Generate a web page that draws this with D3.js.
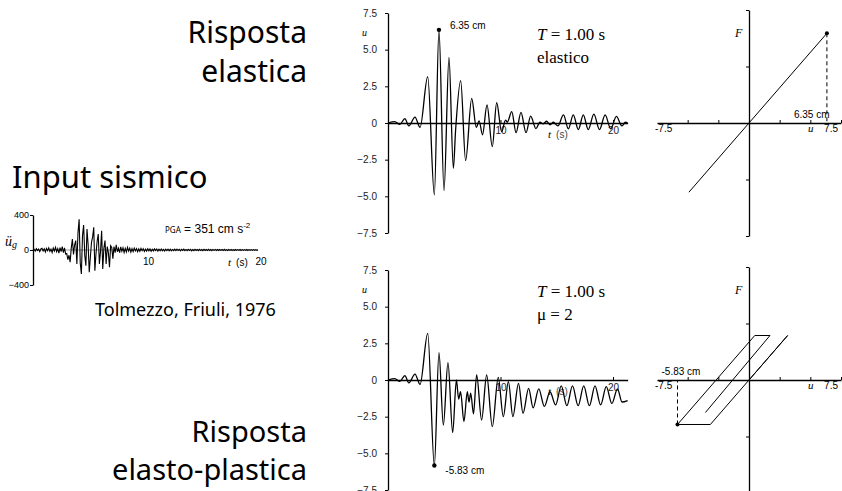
<!DOCTYPE html>
<html>
<head>
<meta charset="utf-8">
<script src="https://cdn.jsdelivr.net/npm/d3@7"></script>
<style>
  body { margin: 0; background: #fff; }
  svg { display: block; }
</style>
</head>
<body>
<div id="chart"></div>
<script>
// ground acceleration, Tolmezzo 1976, one value every 0.1 s from t = 0 (cm/s^2)
const accelStep = 0.1;
const accelValues = [
  0, 8, -12, 15, -6, 10, -18, 12, 20, -10, 14, -22, 18, -8, 25, -15, 10, -28, 22, -12,
  30, -20, 15, -35, 28, -18, 40, -30, 25, -45,
  -40, -110, -60, -140, 20, 126, -50, 60, 107, -160,
  200, 351, -150, -274, 164, 286, -60, -179, 240, 60,
  -255, -80, 88, 150, 259, -236, -40, 100, 183, -160,
  -20, 221, -217, 20, 107, -160, 40, -30, -198, 50,
  30, -100, 40, -30, 60, -20,
  20, -30, 35, -15, 25, -28, 18, -22, 30, -12,
  20, -25, 15, -18, 22, -10, 16, -20, 12, -15,
  18, -8, 14, -16, 10, -12, 15, -9, 12, -14,
  8, -10, 13, -7, 11, -12, 9, -8, 12, -10,
  7, -11, 9, -6, 10, -9, 8, -10, 6, -8,
  9, -7, 10, -6, 8, -9, 7, -5, 9, -8,
  6, -7, 8, -6, 7, -9, 5, -7, 8, -5,
  6, -8, 7, -6, 5, -7, 8, -5, 6, -6,
  7, -5, 5, -7, 6, -4, 7, -6, 5, -5,
  6, -4, 5, -6, 7, -5, 4, -5, 6, -4,
  5, -6, 4, -5, 6, -4, 5, -4, 6, -5,
  4, -5, 5, -4, 6, -5, 4, -5, 5, -4,
  4, -5, 5, -4, 3
];

// elastic response: turning points (t in s, u in cm)
const elasticT = [0, 0.6, 1.05, 1.5, 1.85, 2.4, 2.85, 3.53, 4.12, 4.53, 4.98, 5.42, 5.81, 6.0, 6.46, 6.9,
  7.44, 7.85, 8.1, 8.4, 8.8, 9.27, 9.66, 10.1, 10.45, 10.6, 11.0, 11.38, 11.82, 12.27, 12.68, 13.15,
  13.5, 13.8, 14.1, 14.4, 14.7, 15.1, 15.6, 16.03, 16.47, 16.92, 17.36, 17.8, 18.3, 18.8, 19.3, 19.8,
  20.3, 20.8, 21.1, 21.3];
const elasticU = [0, 0.1, -0.1, 0.3, -0.2, 0.4, -0.3, 3.16, -4.9, 6.35, -4.6, 4.48, -3.09, -0.6, 2.89, -2.57,
  1.68, -0.3, 0.15, -0.8, 1.23, -1.61, 1.38, -0.6, 0.2, 0.05, 0.77, -0.66, 0.72, -0.66, 0.47, -0.38,
  0.05, -0.05, 0.12, -0.12, 0.05, -0.2, 0.55, -0.4, 0.55, -0.45, 0.55, -0.45, 0.6, -0.45, 0.55, -0.4,
  0.45, -0.2, 0.05, 0];

// elasto-plastic response (mu = 2)
const plasticT = [0, 0.6, 1.05, 1.5, 1.85, 2.4, 2.85, 3.53, 4.12, 4.53, 4.92, 5.33, 5.75, 6.08, 6.28, 6.45,
  6.75, 7.05, 7.2, 7.35, 7.6, 7.88, 8.32, 8.77, 9.27, 9.8, 10.25, 10.7, 11.1, 11.6, 12.0, 12.5,
  12.9, 13.4, 13.9, 14.4, 14.9, 15.4, 15.9, 16.4, 16.9, 17.4, 17.9, 18.4, 18.9, 19.4, 19.9, 20.4,
  20.8, 21.3];
const plasticU = [0, 0.1, -0.1, 0.3, -0.2, 0.4, -0.3, 3.18, -5.83, 1.86, -3.07, 1.18, -3.59, 0.0, -1.3, -0.8,
  -2.84, -0.8, -1.5, -0.9, -2.3, 0.34, -2.73, 0.34, -3.18, 0.18, -2.5, -0.11, -2.5, -0.23, -2.27, -0.57,
  -1.9, -0.6, -1.8, -0.8, -1.7, -0.4, -1.75, -0.4, -1.75, -0.4, -1.75, -0.4, -1.7, -0.45, -1.6, -0.6,
  -1.5, -1.4];

// force-displacement paths (u in cm, F in displacement units, k = 1)
const elasticLoopU = [-4.9, 6.35];
const elasticLoopF = [-4.9, 6.35];
const plasticLoopU = [0, 3.15, -3.15, -5.83, 0.47, 1.71, -3.55];
const plasticLoopF = [0, 3.15, -3.15, -3.15, 3.15, 3.15, -2.3];

const W = 842, H = 491;
const sans = "'Liberation Sans', Arial, sans-serif";
const serif = "'Liberation Serif', 'Times New Roman', serif";
const comic = "'Noto Sans', sans-serif";

const svg = d3.select("#chart").append("svg")
  .attr("width", W)
  .attr("height", H)
  .style("font-family", sans);

// headings
function heading(x, y, txt, size, anchor) {
  svg.append("text")
    .attr("x", x).attr("y", y)
    .attr("text-anchor", anchor)
    .style("font-family", comic)
    .style("font-size", size + "px")
    .text(txt);
}
heading(307, 43, "Risposta", 30, "end");
heading(307, 82, "elastica", 30, "end");
heading(12, 188, "Input sismico", 31, "start");
heading(95, 316, "Tolmezzo, Friuli, 1976", 18, "start");
heading(307, 442, "Risposta", 29, "end");
heading(307, 480, "elasto-plastica", 29, "end");

// ---------- accelerogram ----------
const ax = d3.scaleLinear().domain([0, 20]).range([33, 258]);
const ay = d3.scaleLinear().domain([-400, 400]).range([285, 215]);

svg.append("line")
  .attr("x1", ax(0)).attr("x2", ax(20))
  .attr("y1", ay(0)).attr("y2", ay(0))
  .attr("stroke", "#999").attr("stroke-width", 1);

svg.append("path")
  .datum(accelValues)
  .attr("fill", "none")
  .attr("stroke", "#000")
  .attr("stroke-width", 1.1)
  .attr("d", d3.line().x((d, i) => ax(i * accelStep)).y(d => ay(d)));

const accelAxis = svg.append("g")
  .attr("transform", `translate(${ax(0)},0)`)
  .call(d3.axisLeft(ay).tickValues([-400, 0, 400]).tickSize(3).tickPadding(1).tickSizeOuter(0));
accelAxis.select(".domain").attr("stroke-width", 1.3);
accelAxis.selectAll("text").style("font-family", sans).style("font-size", "9px");

svg.selectAll(".acc-xlab")
  .data([10, 20])
  .enter().append("text")
  .attr("x", d => ax(d) + 3)
  .attr("y", ay(0) + 15)
  .attr("text-anchor", "middle")
  .style("font-size", "10px")
  .text(d => d);

svg.append("text")
  .attr("x", 228).attr("y", ay(0) + 16)
  .style("font-size", "10px")
  .call(t => {
    t.append("tspan").style("font-family", serif).style("font-style", "italic").style("font-size", "11px").text("t");
    t.append("tspan").attr("dx", 5).text("(s)");
  });

svg.append("text")
  .attr("x", 5).attr("y", 246)
  .style("font-family", serif).style("font-style", "italic").style("font-size", "14px")
  .call(t => {
    t.append("tspan").text("\u00fc");
    t.append("tspan").attr("dy", 2).style("font-size", "10px").text("g");
  });

svg.append("text")
  .attr("x", 165).attr("y", 233)
  .call(t => {
    t.append("tspan").style("font-family", comic).style("font-size", "8px").text("PGA");
    t.append("tspan").style("font-size", "12px").text(" = 351 cm s");
    t.append("tspan").attr("dy", -5).style("font-size", "8px").text("-2");
  });

// ---------- time histories ----------
const tx = d3.scaleLinear().domain([0, 21.3]).range([388, 388 + 21.3 * 11.25]);

function drawSeries(top, tArr, uArr, label, labelDy, caption) {
  const y = d3.scaleLinear().domain([-7.5, 7.5]).range([top + 220, top]);
  const g = svg.append("g");

  const yAxis = g.append("g")
    .attr("transform", `translate(${tx(0)},0)`)
    .call(d3.axisLeft(y)
      .tickValues([-7.5, -5, -2.5, 0, 2.5, 5, 7.5])
      .tickFormat(d => d === 0 ? "0" : d3.format(".1f")(d))
      .tickSize(3).tickPadding(8).tickSizeOuter(0));
  yAxis.select(".domain").attr("stroke-width", 1.3);
  yAxis.selectAll("text").style("font-family", sans).style("font-size", "10px").attr("fill", "#222");

  const xAxis = g.append("g")
    .attr("transform", `translate(0,${y(0)})`)
    .call(d3.axisBottom(tx).tickValues([10, 20]).tickSize(-3).tickPadding(4).tickSizeOuter(0));
  xAxis.select(".domain").attr("stroke-width", 1.3);
  xAxis.selectAll("text").style("font-family", sans).style("font-size", "10px").attr("fill", "#222");

  g.append("text")
    .attr("x", 548).attr("y", y(0) + 15)
    .style("font-size", "10px")
    .call(t => {
      t.append("tspan").style("font-family", serif).style("font-style", "italic").style("font-size", "11px").text("t");
      t.append("tspan").attr("dx", 5).attr("fill", "#444").text("(s)");
    });

  g.append("text")
    .attr("x", 362).attr("y", top + 23)
    .style("font-family", serif).style("font-style", "italic").style("font-size", "10px")
    .text("u");

  const pts = tArr.map((t, i) => [t, uArr[i]]);
  g.append("path")
    .datum(pts)
    .attr("fill", "none")
    .attr("stroke", "#000")
    .attr("stroke-width", 1.3)
    .attr("d", d3.line().curve(d3.curveMonotoneX).x(d => tx(d[0])).y(d => y(d[1])));

  const peak = pts.reduce((a, b) => Math.abs(b[1]) > Math.abs(a[1]) ? b : a);
  g.append("circle")
    .attr("cx", tx(peak[0])).attr("cy", y(peak[1])).attr("r", 2.2).attr("fill", "#000");
  g.append("text")
    .attr("x", tx(peak[0]) + 11).attr("y", y(peak[1]) + labelDy)
    .style("font-size", "10px")
    .text(label);

  const cap = g.append("text")
    .attr("x", 537).attr("y", top + 27)
    .style("font-family", serif).style("font-size", "17px");
  cap.append("tspan").style("font-style", "italic").text("T");
  cap.append("tspan").text(" = 1.00 s");
  g.append("text")
    .attr("x", 537).attr("y", top + 50)
    .style("font-family", serif).style("font-size", "17px")
    .text(caption);
}

drawSeries(13, elasticT, elasticU, "6.35 cm", -1, "elastico");
drawSeries(270, plasticT, plasticU, "-5.83 cm", 8, "\u03bc = 2");

// ---------- force-displacement ----------
const fx = d3.scaleLinear().domain([-7.5, 7.5]).range([657, 841]);

function drawLoop(center, uArr, fArr, label, labelDx) {
  const fy = d3.scaleLinear().domain([-8, 8]).range([center + 113, center - 113]);
  const g = svg.append("g");

  const xAxis = g.append("g")
    .attr("transform", `translate(0,${fy(0)})`)
    .call(d3.axisBottom(fx).tickValues([-5, -2.5, 2.5, 5, 7.5]).tickSize(-3).tickFormat("").tickSizeOuter(0));
  xAxis.select(".domain").attr("stroke-width", 1.3);

  const yAxis = g.append("g")
    .attr("transform", `translate(${fx(0)},0)`)
    .call(d3.axisLeft(fy).tickValues([-8, -4, 4, 8]).tickSize(3).tickFormat("").tickSizeOuter(0));
  yAxis.select(".domain").attr("stroke-width", 1.3);

  g.append("text").attr("x", fx(-7.5) - 2).attr("y", fy(0) + 9)
    .style("font-size", "10px").text("-7.5");
  g.append("text").attr("x", fx(7.5) - 3).attr("y", fy(0) + 9)
    .attr("text-anchor", "end").style("font-size", "10px").text("7.5");
  g.append("text").attr("x", 808).attr("y", fy(0) + 9)
    .style("font-family", serif).style("font-style", "italic").style("font-size", "11px").text("u");
  g.append("text").attr("x", 735).attr("y", center - 86)
    .style("font-family", serif).style("font-style", "italic").style("font-size", "12px").text("F");

  const pts = uArr.map((u, i) => [u, fArr[i]]);
  g.append("path")
    .datum(pts)
    .attr("fill", "none")
    .attr("stroke", "#000")
    .attr("stroke-width", 1)
    .attr("d", d3.line().x(d => fx(d[0])).y(d => fy(d[1])));

  const peak = pts.reduce((a, b) => Math.abs(b[0]) > Math.abs(a[0]) ? b : a);
  g.append("line")
    .attr("x1", fx(peak[0])).attr("x2", fx(peak[0]))
    .attr("y1", fy(peak[1])).attr("y2", fy(0))
    .attr("stroke", "#000").attr("stroke-width", 1)
    .attr("stroke-dasharray", "4,3");
  g.append("circle")
    .attr("cx", fx(peak[0])).attr("cy", fy(peak[1])).attr("r", 2).attr("fill", "#000");

  g.append("text")
    .attr("x", fx(peak[0]) + labelDx)
    .attr("y", fy(0) - 5)
    .style("font-size", "10px")
    .text(label);
}

drawLoop(123, elasticLoopU, elasticLoopF, "6.35 cm", -33);
drawLoop(380, plasticLoopU, plasticLoopF, "-5.83 cm", -16);
</script>
</body>
</html>
